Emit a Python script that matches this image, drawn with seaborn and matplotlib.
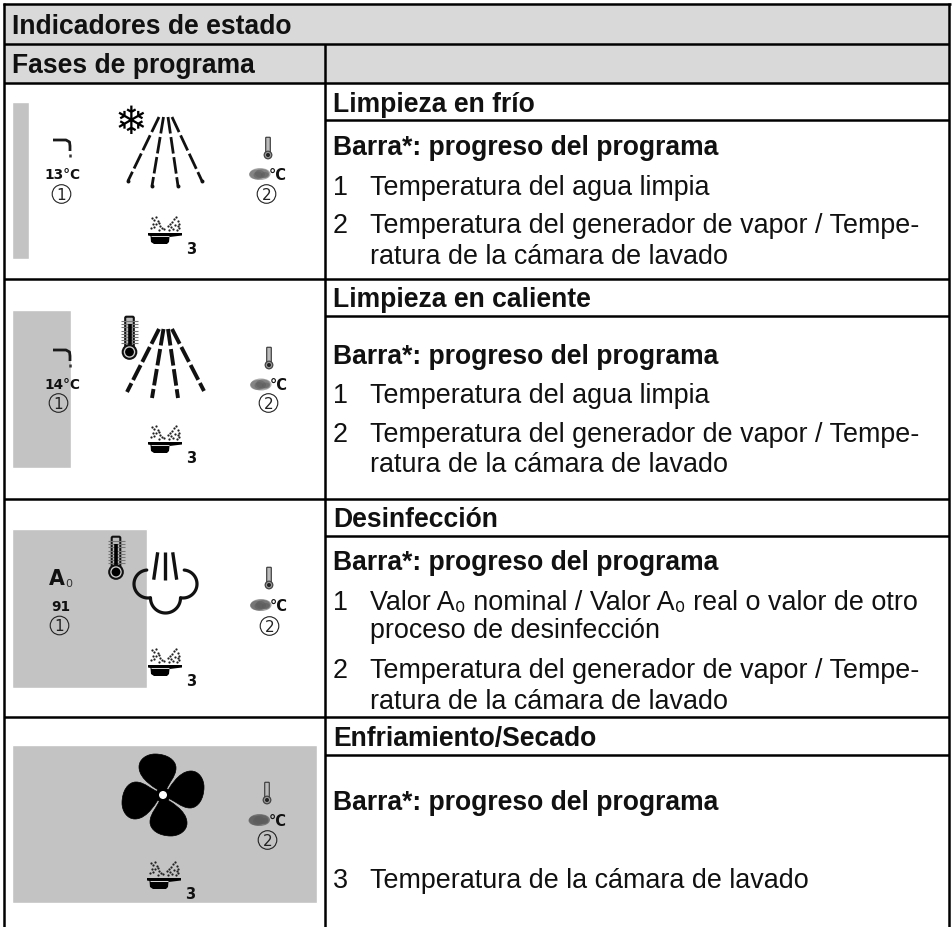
import numpy as np
import pandas as pd
import matplotlib
matplotlib.use("Agg")
import matplotlib.pyplot as plt
import seaborn as sns
from matplotlib.patches import Circle, Ellipse, PathPatch, Polygon, FancyBboxPatch
from matplotlib.path import Path

# table texts
title = "Indicadores de estado"
subtitle = "Fases de programa"
phases = ["Limpieza en frío", "Limpieza en caliente", "Desinfección", "Enfriamiento/Secado"]
bar_label = "Barra*: progreso del programa"
line_agua = "Temperatura del agua limpia"
line_gen_1 = "Temperatura del generador de vapor / Tempe-"
line_gen_2 = "ratura de la cámara de lavado"
line_a0_1 = "Valor A₀ nominal / Valor A₀ real o valor de otro"
line_a0_2 = "proceso de desinfección"
line_camara = "Temperatura de la cámara de lavado"

# progress bar shown on each display
progress = [17, 59, 135, 305]
water_values = ["13°C", "14°C", "91", ""]

HEADER = "#d9d9d9"
BAR = "#c3c3c3"
INK = "#111111"

sns.set_theme(style="white")
plt.rcParams["font.family"] = ["Liberation Sans", "DejaVu Sans"]
plt.rcParams["lines.scale_dashes"] = False

fig = plt.figure(figsize=(9.52, 9.28), dpi=100, facecolor="white")

# progress bars on their own axes, zero sits on the left edge of the display
ax_bar = fig.add_axes([0, 0, 1, 1], zorder=0)
bar_df = pd.DataFrame({"phase": phases, "progress": progress,
                       "mid": [181.5, 390, 609.5, 825], "thick": [157, 158, 159, 158]})
for _, row in bar_df.iterrows():
    sns.barplot(x=[row.progress], y=[row.mid], orient="h", native_scale=True, width=row.thick,
                color=BAR, saturation=1, ax=ax_bar)
ax_bar.set_xlim(-12, 940)
ax_bar.set_ylim(928, 0)
ax_bar.axis("off")

# everything else in picture pixels
ax = fig.add_axes([0, 0, 1, 1], zorder=1)
ax.set_xlim(0, 952)
ax.set_ylim(928, 0)
ax.patch.set_alpha(0)
ax.axis("off")


def hline(y, x0, x1, lw=1.8):
    ax.plot([x0, x1], [y, y], color="black", lw=lw, solid_capstyle="butt", zorder=3)


def vline(x, y0, y1, lw=1.8):
    ax.plot([x, x], [y0, y1], color="black", lw=lw, solid_capstyle="butt", zorder=3)


def bold(x, y, s):
    ax.text(x, y, s, fontsize=19.1, fontweight="bold", color=INK, va="baseline", ha="left")


def body(x, y, s):
    ax.text(x, y, s, fontsize=19.4, color=INK, va="baseline", ha="left")


def circled(x, y, s):
    ax.add_patch(Circle((x, y), 9.3, fc="none", ec="#222222", lw=0.8))
    ax.text(x, y + 0.5, s, fontsize=11, color="#222222", ha="center", va="center", family="DejaVu Sans")


def icon_text(x, y, s, size=10):
    ax.text(x, y, s, fontsize=size, fontweight="bold", color="#111111", ha="center", va="center",
            family="DejaVu Sans")


def faucet(x, y):
    pts = [(x, y), (x + 13, y), (x + 16.5, y + 2), (x + 17, y + 6), (x + 17, y + 11)]
    ax.plot(*zip(*pts), color="#1a1a1a", lw=2, solid_joinstyle="round", solid_capstyle="butt")
    ax.plot([x + 17, x + 17], [y + 13.5, y + 16.5], color="#333333", lw=1.8, solid_capstyle="butt")


def small_thermo(x, y):
    ax.add_patch(FancyBboxPatch((x - 1.6, y), 3.2, 15, boxstyle="round,pad=0.7", fc="#bbbbbb", ec="#444444", lw=0.9))
    ax.add_patch(Circle((x, y + 17), 3.8, fc="#999999", ec="#444444", lw=0.9))
    ax.add_patch(Circle((x, y + 17), 2, fc="#222222", ec="none"))


def big_thermo(x, y):
    for t in np.arange(y + 5, y + 30, 3.2):
        ax.plot([x - 8.5, x + 8.5], [t, t], color="#777777", lw=0.8, solid_capstyle="butt")
    ax.add_patch(FancyBboxPatch((x - 3, y + 2), 6, 30, boxstyle="round,pad=1.3", fc="#bbbbbb", ec="#111111", lw=1.5))
    ax.plot([x, x], [y + 8, y + 34], color="black", lw=2.6, solid_capstyle="butt")
    ax.add_patch(Circle((x, y + 36), 6.8, fc="#cccccc", ec="#111111", lw=1.5, zorder=2))
    ax.add_patch(Circle((x, y + 36), 4.4, fc="black", ec="none", zorder=2))


def blotch(x, y, alpha=0.5):
    # blurred out value
    for dx, dy, w, h in [(0, 0, 21, 12), (-3, 0.5, 16, 10), (2, -0.5, 14, 9), (-2, 1, 9, 7), (5, 1, 8, 6)]:
        ax.add_patch(Ellipse((x + dx, y + dy), w, h, fc="#5c5c5c", ec="none", alpha=alpha))
    ax.text(x + 18, y + 0.2, "°C", fontsize=10.5, fontweight="bold", color="#111111", ha="center", va="center",
            family="DejaVu Sans")


spray_x = [-13, -11, -9, -7, -12, -9, -6, -11, -5, -3, -1, 3, 5, 7, 9, 11, 13, 14, 6, 10, 13, 8, 12, 14, -14, -6, 4]
spray_y = [-16, -14, -17, -13, -10, -10, -11, -7, -8, -6, -5, -8, -10, -12, -15, -17, -13, -10, -7, -9, -8, -5, -4, -6, -6, -4, -4]


def pan(x, y):
    # x, y is the left end of the handle top
    ax.scatter(np.array(spray_x) + x + 17, np.array(spray_y) + y, s=2.6, color="#222222", lw=0)
    ax.add_patch(Polygon([(x, y - 1), (x + 34, y - 1), (x + 34, y + 1.5), (x + 21.5, y + 3), (x + 21, y + 8),
                          (x + 19, y + 10), (x + 6, y + 10), (x + 3, y + 8), (x + 2.5, y + 2), (x, y + 1.5)],
                         fc="black", ec="none"))
    ax.plot([x + 3, x + 21], [y + 2, y + 2], color="white", lw=0.6, solid_capstyle="butt")
    icon_text(x + 43.5, y + 14.5, "3", 10.5)


def spray(tops, apex_y, ends, lw, dots):
    for tx, (ex, ey) in zip(tops, ends):
        ax.plot([tx, ex], [apex_y, ey], color="#111111", lw=lw,
                linestyle=(0, (12, 2.6)), dash_capstyle="butt")
        if dots:
            ax.scatter([ex], [ey], s=8, color="#111111", lw=0)


def arc(cx, cy, r, a0, a1):
    t = np.radians(np.linspace(a0, a1, 40))
    return cx + r * np.cos(t), cy + r * np.sin(t)


def cloud():
    parts = [arc(148, 585, 14, -95, -280), arc(165.5, 599, 15, 180, 0), arc(183, 585, 14, -85, 100)]
    for xs, ys in parts:
        ax.plot(xs, ys, color="#111111", lw=2.3, solid_capstyle="round")
    for x0, x1 in [(157.7, 153.7), (165.3, 165.3), (172.7, 176.7)]:
        ax.plot([x0, x1], [553.3, 580.7], color="#111111", lw=2.4, solid_capstyle="butt")


def fan(cx, cy):
    verts = [(0, -2), (-6, -6), (-24, -15), (-24, -28), (-24, -36), (-16, -41), (-8, -41),
             (4, -41), (13, -35), (13, -27), (13, -18), (5, -12), (2, -2), (0, -2)]
    codes = [Path.MOVETO] + [Path.CURVE4] * 12 + [Path.CLOSEPOLY]
    verts = np.array(verts, float)
    for k in range(4):
        a = np.pi / 2 * k
        rot = np.array([[np.cos(a), -np.sin(a)], [np.sin(a), np.cos(a)]])
        pts = verts @ rot.T + [cx, cy]
        ax.add_patch(PathPatch(Path(pts, codes), fc="black", ec="black", lw=0.5))
    ax.add_patch(Circle((cx, cy), 7.5, fc="black", ec="none"))
    ax.add_patch(Circle((cx, cy), 4, fc="white", ec="none"))


# header fills
ax.fill_between([4, 949], 5, 83.5, color=HEADER, lw=0, zorder=0)

# table grid
hline(5, 3, 950.5)
hline(44.5, 4, 949)
hline(83.5, 4, 949)
hline(280, 4, 949)
hline(500, 4, 949)
hline(718, 4, 949)
hline(121, 324.7, 949)
hline(317, 324.7, 949)
hline(537, 324.7, 949)
hline(756, 324.7, 949)
vline(4, 4, 928)
vline(949, 4, 928)
vline(324.7, 44.5, 928)

# left column headers
bold(12, 33.7, title)
bold(12, 72.7, subtitle)

# right column, row by row
bold(333, 112, phases[0])
bold(333, 155, bar_label)
body(333, 195, "1")
body(370, 195, line_agua)
body(333, 232.7, "2")
body(370, 232.7, line_gen_1)
body(370, 264, line_gen_2)

bold(333, 307, phases[1])
bold(333, 363.7, bar_label)
body(333, 402.7, "1")
body(370, 402.7, line_agua)
body(333, 441.7, "2")
body(370, 441.7, line_gen_1)
body(370, 471.7, line_gen_2)

bold(333, 526.7, phases[2])
bold(333, 570, bar_label)
body(333, 610, "1")
body(370, 610, line_a0_1)
body(370, 638, line_a0_2)
body(333, 678, "2")
body(370, 678, line_gen_1)
body(370, 709, line_gen_2)

bold(333, 745.7, phases[3])
bold(333, 810, bar_label)
body(333, 887.7, "3")
body(370, 887.7, line_camara)

tops = [159, 163.5, 168, 172]

# display 1, cold cleaning
faucet(53, 141)
icon_text(62, 175, water_values[0], 9.8)
circled(61.5, 195, "1")
ax.text(131, 122.5, "❄", fontsize=28, color="black", ha="center", va="center", family="DejaVu Sans")
spray(tops, 118, [(128, 182), (152, 187), (178, 187), (202, 182)], 2, True)
small_thermo(268, 139)
blotch(260, 175)
circled(266.5, 195, "2")
pan(148, 235)

# display 2, hot cleaning
faucet(53, 351)
icon_text(62, 385.5, water_values[1], 9.8)
circled(58.5, 404, "1")
big_thermo(129.5, 317)
spray(tops, 330, [(127, 393), (152, 399), (178, 399), (204, 392)], 2.8, False)
small_thermo(269, 349)
blotch(261, 385.5)
circled(268.5, 404, "2")
pan(148, 444)

# display 3, disinfection
ax.text(57, 579, "A", fontsize=14.8, fontweight="bold", color="#111111", ha="center", va="center", family="DejaVu Sans")
ax.text(68.5, 584, "0", fontsize=8, color="#333333", ha="center", va="center", family="DejaVu Sans")
icon_text(61, 607, water_values[2], 9.8)
circled(59.5, 626.5, "1")
big_thermo(116, 537)
cloud()
small_thermo(269, 569)
blotch(261, 606, 0.6)
circled(269.5, 627, "2")
pan(148, 667)

# display 4, cooling and drying
fan(163, 796)
small_thermo(267, 784)
blotch(259.5, 821, 0.7)
circled(267.5, 841, "2")
pan(147, 880)

fig.savefig("out.png", dpi=100)
